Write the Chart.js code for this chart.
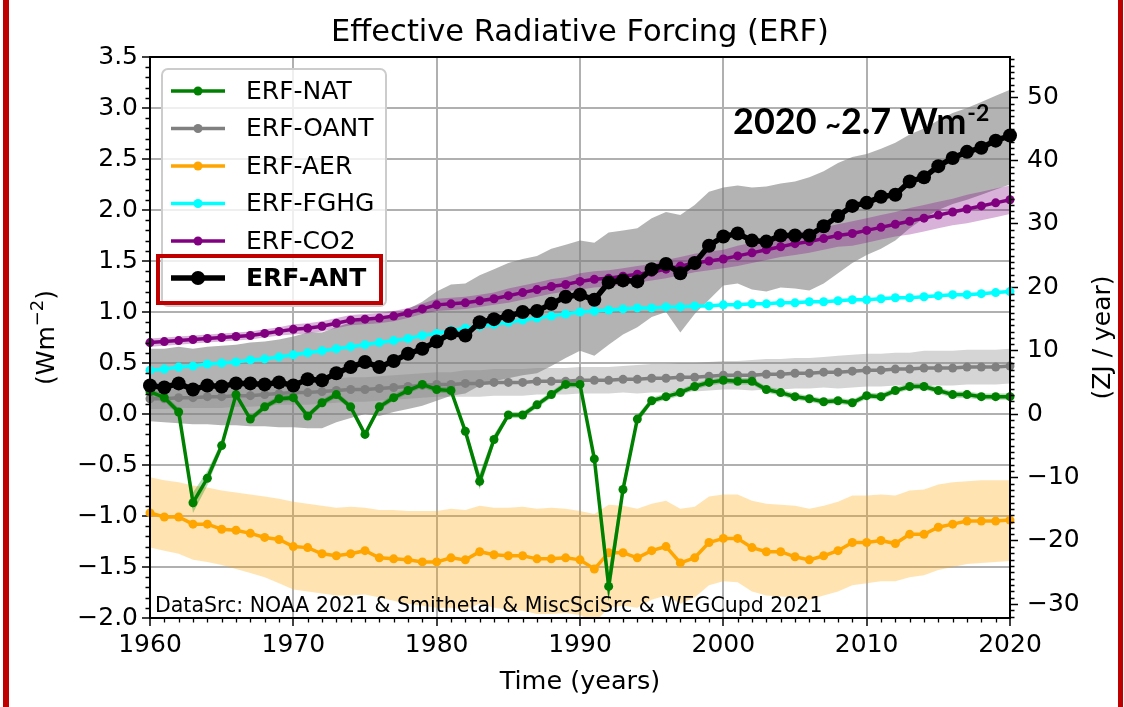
<!DOCTYPE html>
<html>
<head>
<meta charset="utf-8">
<script src="https://cdn.jsdelivr.net/npm/chart.js@4.4.0/dist/chart.umd.min.js"></script>
<style>
    html, body { margin: 0; padding: 0; background: #fff; }
    #wrap { width: 1124px; height: 707px; position: relative; }
</style>
</head>
<body>
<div id="wrap"><canvas id="erfChart" width="1124" height="707"></canvas></div>
<script>
// --- Dados ---
const years = [1960,1961,1962,1963,1964,1965,1966,1967,1968,1969,
    1970,1971,1972,1973,1974,1975,1976,1977,1978,1979,
    1980,1981,1982,1983,1984,1985,1986,1987,1988,1989,
    1990,1991,1992,1993,1994,1995,1996,1997,1998,1999,
    2000,2001,2002,2003,2004,2005,2006,2007,2008,2009,
    2010,2011,2012,2013,2014,2015,2016,2017,2018,2019,2020];

const erfNat = [0.22,0.16,0.02,-0.87,-0.63,-0.31,0.19,-0.05,0.07,0.15,
    0.16,-0.02,0.11,0.19,0.07,-0.20,0.07,0.16,0.23,0.29,
    0.24,0.23,-0.17,-0.66,-0.25,-0.01,-0.01,0.09,0.19,0.29,
    0.29,-0.44,-1.69,-0.74,-0.05,0.13,0.17,0.21,0.27,0.31,
    0.33,0.32,0.32,0.24,0.21,0.17,0.15,0.12,0.13,0.11,
    0.18,0.17,0.23,0.27,0.27,0.23,0.19,0.19,0.17,0.17,0.17];
const natSpread = [0.03,0.03,0.04,0.10,0.07,0.04,0.03,0.03,0.03,0.03,
    0.03,0.03,0.03,0.03,0.03,0.03,0.03,0.03,0.03,0.03,
    0.03,0.03,0.04,0.08,0.05,0.03,0.03,0.03,0.03,0.03,
    0.03,0.06,0.15,0.08,0.04,0.03,0.03,0.03,0.03,0.03,
    0.03,0.03,0.03,0.03,0.03,0.03,0.03,0.03,0.03,0.03,
    0.03,0.03,0.03,0.03,0.03,0.03,0.03,0.03,0.03,0.03,0.03];

const erfOant = [0.15,0.15,0.16,0.16,0.17,0.17,0.18,0.18,0.19,0.20,
    0.21,0.21,0.22,0.23,0.24,0.24,0.25,0.26,0.27,0.28,
    0.29,0.29,0.30,0.30,0.31,0.31,0.31,0.32,0.32,0.32,
    0.33,0.33,0.33,0.34,0.34,0.35,0.35,0.36,0.36,0.37,
    0.38,0.38,0.38,0.39,0.39,0.40,0.40,0.41,0.41,0.42,
    0.43,0.43,0.44,0.44,0.45,0.45,0.45,0.46,0.46,0.46,0.47];
const oantSpread = [0.10,0.10,0.10,0.10,0.11,0.11,0.11,0.11,0.11,0.11,
    0.12,0.12,0.12,0.12,0.12,0.12,0.12,0.12,0.12,0.12,
    0.12,0.12,0.13,0.13,0.13,0.13,0.13,0.13,0.13,0.13,
    0.13,0.13,0.13,0.13,0.14,0.14,0.14,0.14,0.14,0.14,
    0.14,0.14,0.15,0.15,0.15,0.15,0.15,0.15,0.16,0.16,
    0.16,0.16,0.16,0.16,0.17,0.17,0.17,0.17,0.17,0.17,0.17];

const erfAer = [-0.97,-1.01,-1.01,-1.08,-1.08,-1.13,-1.14,-1.17,-1.21,-1.23,
    -1.30,-1.31,-1.37,-1.39,-1.37,-1.34,-1.41,-1.42,-1.43,-1.45,
    -1.45,-1.41,-1.43,-1.35,-1.38,-1.39,-1.39,-1.42,-1.42,-1.41,
    -1.43,-1.52,-1.36,-1.36,-1.41,-1.34,-1.30,-1.46,-1.41,-1.26,
    -1.22,-1.22,-1.31,-1.35,-1.35,-1.40,-1.43,-1.39,-1.34,-1.26,
    -1.26,-1.24,-1.27,-1.18,-1.18,-1.11,-1.08,-1.05,-1.05,-1.05,-1.04];
const aerHi = [-0.62,-0.65,-0.67,-0.70,-0.72,-0.75,-0.77,-0.79,-0.81,-0.83,
    -0.86,-0.88,-0.90,-0.92,-0.91,-0.92,-0.94,-0.94,-0.95,-0.95,
    -0.95,-0.93,-0.94,-0.90,-0.92,-0.92,-0.91,-0.93,-0.92,-0.93,
    -0.95,-0.98,-0.89,-0.90,-0.93,-0.88,-0.85,-0.93,-0.91,-0.81,
    -0.79,-0.79,-0.85,-0.88,-0.89,-0.90,-0.93,-0.90,-0.86,-0.80,
    -0.80,-0.79,-0.80,-0.75,-0.74,-0.69,-0.67,-0.66,-0.65,-0.65,-0.65];
const aerLo = [-1.31,-1.34,-1.37,-1.43,-1.45,-1.48,-1.52,-1.56,-1.60,-1.66,
    -1.72,-1.74,-1.76,-1.78,-1.78,-1.77,-1.80,-1.83,-1.86,-1.88,
    -1.90,-1.90,-1.92,-1.86,-1.90,-1.92,-1.93,-1.96,-1.96,-1.95,
    -1.97,-2.05,-1.90,-1.88,-1.90,-1.82,-1.78,-1.86,-1.80,-1.68,
    -1.64,-1.65,-1.74,-1.78,-1.79,-1.80,-1.82,-1.78,-1.74,-1.68,
    -1.66,-1.64,-1.64,-1.60,-1.58,-1.53,-1.50,-1.47,-1.46,-1.45,-1.44];

const erfFghg = [0.43,0.44,0.46,0.47,0.49,0.50,0.51,0.53,0.54,0.56,
    0.58,0.60,0.62,0.64,0.66,0.68,0.70,0.72,0.74,0.77,
    0.79,0.82,0.84,0.86,0.88,0.90,0.92,0.94,0.96,0.98,
    1.00,1.01,1.02,1.03,1.04,1.04,1.05,1.05,1.06,1.06,
    1.07,1.07,1.08,1.08,1.09,1.09,1.10,1.10,1.11,1.12,
    1.12,1.13,1.14,1.14,1.15,1.16,1.17,1.17,1.18,1.19,1.20];

const erfCo2 = [0.70,0.71,0.72,0.73,0.74,0.75,0.76,0.77,0.79,0.81,
    0.83,0.84,0.86,0.89,0.92,0.93,0.94,0.96,0.99,1.03,
    1.07,1.08,1.09,1.11,1.13,1.16,1.19,1.22,1.25,1.27,
    1.30,1.32,1.33,1.35,1.37,1.39,1.42,1.45,1.48,1.50,
    1.52,1.55,1.58,1.61,1.64,1.67,1.69,1.72,1.75,1.77,
    1.80,1.83,1.86,1.89,1.92,1.95,1.98,2.01,2.04,2.07,2.10];
const co2Spread = [0.04,0.04,0.04,0.04,0.04,0.04,0.04,0.04,0.04,0.04,
    0.05,0.05,0.05,0.05,0.05,0.05,0.05,0.05,0.05,0.05,
    0.06,0.06,0.06,0.06,0.06,0.07,0.07,0.07,0.07,0.07,
    0.08,0.08,0.08,0.08,0.08,0.08,0.09,0.09,0.09,0.09,
    0.09,0.10,0.10,0.10,0.10,0.11,0.11,0.11,0.11,0.12,
    0.12,0.12,0.12,0.13,0.13,0.13,0.13,0.14,0.14,0.14,0.14];

const erfAnt = [0.28,0.26,0.30,0.24,0.28,0.27,0.30,0.30,0.29,0.31,
    0.28,0.34,0.33,0.40,0.46,0.51,0.46,0.52,0.59,0.64,
    0.71,0.79,0.77,0.90,0.93,0.96,1.00,1.01,1.08,1.15,
    1.17,1.12,1.29,1.31,1.30,1.42,1.47,1.38,1.48,1.65,
    1.74,1.77,1.70,1.69,1.75,1.75,1.75,1.84,1.94,2.04,
    2.07,2.13,2.15,2.28,2.32,2.43,2.51,2.57,2.61,2.68,2.73];
const antHi = [0.64,0.64,0.66,0.64,0.66,0.67,0.68,0.70,0.71,0.73,
    0.76,0.80,0.80,0.85,0.90,0.93,0.92,0.96,1.03,1.10,
    1.20,1.27,1.28,1.36,1.42,1.48,1.52,1.55,1.62,1.66,
    1.70,1.68,1.78,1.80,1.82,1.92,1.98,1.95,2.05,2.18,
    2.22,2.24,2.22,2.23,2.26,2.28,2.32,2.38,2.46,2.52,
    2.55,2.60,2.66,2.74,2.80,2.88,2.95,3.00,3.06,3.12,3.18];
const antLo = [-0.07,-0.08,-0.09,-0.10,-0.10,-0.11,-0.11,-0.12,-0.12,-0.13,
    -0.13,-0.14,-0.14,-0.08,-0.04,0.00,-0.02,0.02,0.05,0.08,
    0.13,0.18,0.20,0.28,0.32,0.35,0.38,0.40,0.47,0.55,
    0.62,0.57,0.68,0.78,0.85,0.95,1.00,0.80,0.98,1.12,
    1.26,1.28,1.22,1.20,1.24,1.23,1.21,1.28,1.38,1.48,
    1.56,1.62,1.70,1.82,1.92,2.00,2.06,2.10,2.15,2.20,2.25];

const yTicksLeft = [-2.0,-1.5,-1.0,-0.5,0.0,0.5,1.0,1.5,2.0,2.5,3.0,3.5];
const yTicksRight = [-30,-20,-10,0,10,20,30,40,50];
const xTicks = [1960,1970,1980,1990,2000,2010,2020];

// 1 W m-2 global, por ano, em ZJ
const ZJ_PER_WM2 = 16.1;

// --- Estilo ---
const FONT = '"DejaVu Sans", sans-serif';
const RED = '#c00000';
Chart.defaults.font.family = FONT;
Chart.defaults.color = '#000';

const minus = s => String(s).replace('-', '\u2212');

function lineSet(label, data, color, width, radius, order) {
    return {
        label, data, isSeries: true,
        borderColor: color, backgroundColor: color,
        pointBackgroundColor: color, pointBorderColor: color,
        borderWidth: width, pointRadius: radius, pointHoverRadius: radius,
        pointBorderWidth: 0, tension: 0, fill: false, order, clip: false
    };
}
function bandSet(data, color, fillTarget, order) {
    return {
        label: '', data, isSeries: false,
        borderColor: 'rgba(0,0,0,0)', backgroundColor: color,
        borderWidth: 0, pointRadius: 0, pointHoverRadius: 0,
        tension: 0, fill: fillTarget, order
    };
}
const withSpread = (vals, spr, sign) => vals.map((v, i) => +(v + sign * spr[i]).toFixed(3));

// índices: 0..5 linhas, 6.. bandas
const datasets = [
    lineSet('ERF-NAT', erfNat, '#008000', 3.5, 4.5, 2),
    lineSet('ERF-OANT', erfOant, '#808080', 3.5, 4.5, 3),
    lineSet('ERF-AER', erfAer, '#ffa500', 3.5, 4.5, 3),
    lineSet('ERF-FGHG', erfFghg, '#00ffff', 3.5, 4.5, 2),
    lineSet('ERF-CO2', erfCo2, '#800080', 3.5, 4.5, 2),
    lineSet('ERF-ANT', erfAnt, '#000000', 5.5, 7, 0),
    bandSet(aerHi, 'rgba(255,165,0,0.3)', 7, 20),            // 6
    bandSet(aerLo, 'rgba(0,0,0,0)', false, 20),              // 7
    bandSet(withSpread(erfOant, oantSpread, 1), 'rgba(128,128,128,0.33)', 9, 19), // 8
    bandSet(withSpread(erfOant, oantSpread, -1), 'rgba(0,0,0,0)', false, 19),     // 9
    bandSet(antHi, 'rgba(128,128,128,0.6)', 11, 18),          // 10
    bandSet(antLo, 'rgba(0,0,0,0)', false, 18),               // 11
    bandSet(withSpread(erfCo2, co2Spread, 1), 'rgba(128,0,128,0.3)', 13, 17),     // 12
    bandSet(withSpread(erfCo2, co2Spread, -1), 'rgba(0,0,0,0)', false, 17),       // 13
    bandSet(withSpread(erfNat, natSpread, 1), 'rgba(0,128,0,0.3)', 15, 16),       // 14
    bandSet(withSpread(erfNat, natSpread, -1), 'rgba(0,0,0,0)', false, 16)        // 15
];

// --- Plugin: moldura, ticks menores, títulos, legenda, anotação ---
function drawMinor(ctx, scale, values, majors, side, len) {
    const a = scale.chart.chartArea;
    ctx.beginPath();
    values.forEach(v => {
        if (majors.some(m => Math.abs(m - v) < 1e-6)) return;
        const p = Math.round(scale.getPixelForValue(v)) + 0.5;
        if (side === 'bottom') { ctx.moveTo(p, a.bottom); ctx.lineTo(p, a.bottom + len); }
        if (side === 'left') { ctx.moveTo(a.left, p); ctx.lineTo(a.left - len, p); }
        if (side === 'right') { ctx.moveTo(a.right, p); ctx.lineTo(a.right + len, p); }
    });
    ctx.stroke();
}

const decorations = {
    id: 'decorations',
    beforeDraw(chart) {
        const ctx = chart.ctx;
        ctx.save();
        ctx.fillStyle = '#fff';
        ctx.fillRect(0, 0, chart.width, chart.height);
        ctx.fillStyle = RED;
        ctx.fillRect(3, 0, 6, chart.height);
        ctx.fillRect(1118, 0, 5, chart.height);
        ctx.restore();
    },
    afterDraw(chart) {
        const ctx = chart.ctx;
        const a = chart.chartArea;
        const sx = chart.scales.x, sy = chart.scales.y, sy2 = chart.scales.y2;
        ctx.save();

        // moldura
        ctx.strokeStyle = '#000';
        ctx.lineWidth = 2;
        ctx.strokeRect(a.left, a.top, a.right - a.left, a.bottom - a.top);

        // ticks menores
        ctx.lineWidth = 1.3;
        const xm = [], ym = [], y2m = [];
        for (let i = 0; i <= 60; i++) xm.push(1960 + i);
        for (let i = 0; i <= 55; i++) ym.push(-2 + i / 10);
        for (let i = -32; i <= 56; i++) y2m.push(i);
        drawMinor(ctx, sx, xm, xTicks, 'bottom', 4.5);
        drawMinor(ctx, sy, ym, yTicksLeft, 'left', 4.5);
        drawMinor(ctx, sy2, y2m, yTicksRight, 'right', 4.5);

        // títulos
        ctx.fillStyle = '#000';
        ctx.textAlign = 'center';
        ctx.textBaseline = 'middle';
        ctx.font = '30.5px ' + FONT;
        ctx.fillText('Effective Radiative Forcing (ERF)', (a.left + a.right) / 2, 33);
        ctx.font = '25.5px ' + FONT;
        ctx.fillText('Time (years)', (a.left + a.right) / 2, 682);

        // título eixo esquerdo: (Wm-2)
        const cy = (a.top + a.bottom) / 2;
        ctx.save();
        ctx.translate(45, cy);
        ctx.rotate(-Math.PI / 2);
        ctx.textAlign = 'left';
        ctx.textBaseline = 'alphabetic';
        const p1 = '(Wm', p3 = ')';
        ctx.font = '18px ' + FONT;
        const wSup = ctx.measureText('\u22122').width;
        ctx.font = '25px ' + FONT;
        const w1 = ctx.measureText(p1).width, w3 = ctx.measureText(p3).width;
        const x0 = -(w1 + wSup + w3) / 2;
        ctx.fillText(p1, x0, 9);
        ctx.font = '18px ' + FONT;
        ctx.fillText('\u22122', x0 + w1, -2);
        ctx.font = '25px ' + FONT;
        ctx.fillText(p3, x0 + w1 + wSup, 9);
        ctx.restore();

        // título eixo direito
        ctx.save();
        ctx.translate(1103, cy);
        ctx.rotate(-Math.PI / 2);
        ctx.font = '25px ' + FONT;
        ctx.textAlign = 'center';
        ctx.textBaseline = 'middle';
        ctx.fillText('(ZJ / year)', 0, 0);
        ctx.restore();

        // fonte dos dados
        ctx.textAlign = 'left';
        ctx.textBaseline = 'middle';
        ctx.font = '20.5px ' + FONT;
        ctx.fillText('DataSrc: NOAA 2021 & Smithetal & MiscSciSrc & WEGCupd 2021', 155, 607);

        // anotação 2020
        ctx.textBaseline = 'alphabetic';
        let ax = 733;
        const big = 'bold 36px Lato, ' + FONT;
        ctx.font = big;
        ctx.fillText('2020 ', ax, 134); ax += ctx.measureText('2020 ').width;
        ctx.font = 'bold 27px Lato, ' + FONT;
        ctx.fillText('~', ax, 134); ax += ctx.measureText('~').width;
        ctx.font = big;
        ctx.fillText('2.7 Wm', ax, 134); ax += ctx.measureText('2.7 Wm').width + 1;
        ctx.font = 'bold 23px Lato, ' + FONT;
        ctx.fillText('-2', ax, 121);

        // legenda
        const lx = 162, ly = 69, lw = 224, lh = 237;
        ctx.beginPath();
        ctx.roundRect(lx, ly, lw, lh, 6);
        ctx.fillStyle = 'rgba(255,255,255,0.8)';
        ctx.fill();
        ctx.strokeStyle = '#cccccc';
        ctx.lineWidth = 2;
        ctx.stroke();
        const rows = [91, 128.5, 166, 203.5, 241, 278];
        chart.data.datasets.filter(d => d.isSeries).forEach((d, i) => {
            const y = rows[i];
            ctx.strokeStyle = d.borderColor;
            ctx.lineWidth = d.borderWidth;
            ctx.beginPath();
            ctx.moveTo(171, y); ctx.lineTo(225, y);
            ctx.stroke();
            ctx.fillStyle = d.borderColor;
            ctx.beginPath();
            ctx.arc(198, y, d.pointRadius, 0, Math.PI * 2);
            ctx.fill();
            ctx.fillStyle = '#000';
            ctx.font = (d.label === 'ERF-ANT' ? 'bold ' : '') + '25px ' + FONT;
            ctx.textBaseline = 'middle';
            ctx.fillText(d.label, 246, y + 1);
        });
        ctx.strokeStyle = RED;
        ctx.lineWidth = 4;
        ctx.strokeRect(158, 256, 223, 47);

        ctx.restore();
    }
};

// --- Gráfico ---
const ctx = document.getElementById('erfChart').getContext('2d');
new Chart(ctx, {
    type: 'line',
    data: { labels: years, datasets },
    plugins: [decorations],
    options: {
        responsive: false,
        animation: false,
        devicePixelRatio: 1,
        layout: { padding: { top: 57, left: 0, right: 0, bottom: 0 } },
        plugins: { legend: { display: false }, title: { display: false }, tooltip: { enabled: false } },
        scales: {
            x: {
                type: 'linear', min: 1960, max: 2020,
                afterFit: s => { s.height = 89; },
                afterBuildTicks: s => { s.ticks = xTicks.map(v => ({ value: v })); },
                ticks: { font: { size: 25 }, color: '#000', padding: 4, maxRotation: 0, callback: v => String(v) },
                grid: { color: '#b0b0b0', lineWidth: 2, tickColor: '#000', tickLength: 8, tickWidth: 1.5 },
                border: { display: true, color: '#000', width: 2 }
            },
            y: {
                position: 'left', min: -2.0, max: 3.5,
                afterFit: s => { s.width = 150; },
                afterBuildTicks: s => { s.ticks = yTicksLeft.map(v => ({ value: v })); },
                ticks: { font: { size: 25 }, color: '#000', padding: 4, callback: v => minus(v.toFixed(1)) },
                grid: { color: '#b0b0b0', lineWidth: 2, tickColor: '#000', tickLength: 8, tickWidth: 1.5 },
                border: { display: true, color: '#000', width: 2 }
            },
            y2: {
                position: 'right',
                min: -2.0 * ZJ_PER_WM2, max: 3.5 * ZJ_PER_WM2,
                afterFit: s => { s.width = 114; },
                afterBuildTicks: s => { s.ticks = yTicksRight.map(v => ({ value: v })); },
                ticks: { font: { size: 25 }, color: '#000', padding: 9, callback: v => minus(v) },
                grid: { drawOnChartArea: false, tickColor: '#000', tickLength: 8, tickWidth: 1.5 },
                border: { display: true, color: '#000', width: 2 }
            }
        }
    }
});
</script>
</body>
</html>
